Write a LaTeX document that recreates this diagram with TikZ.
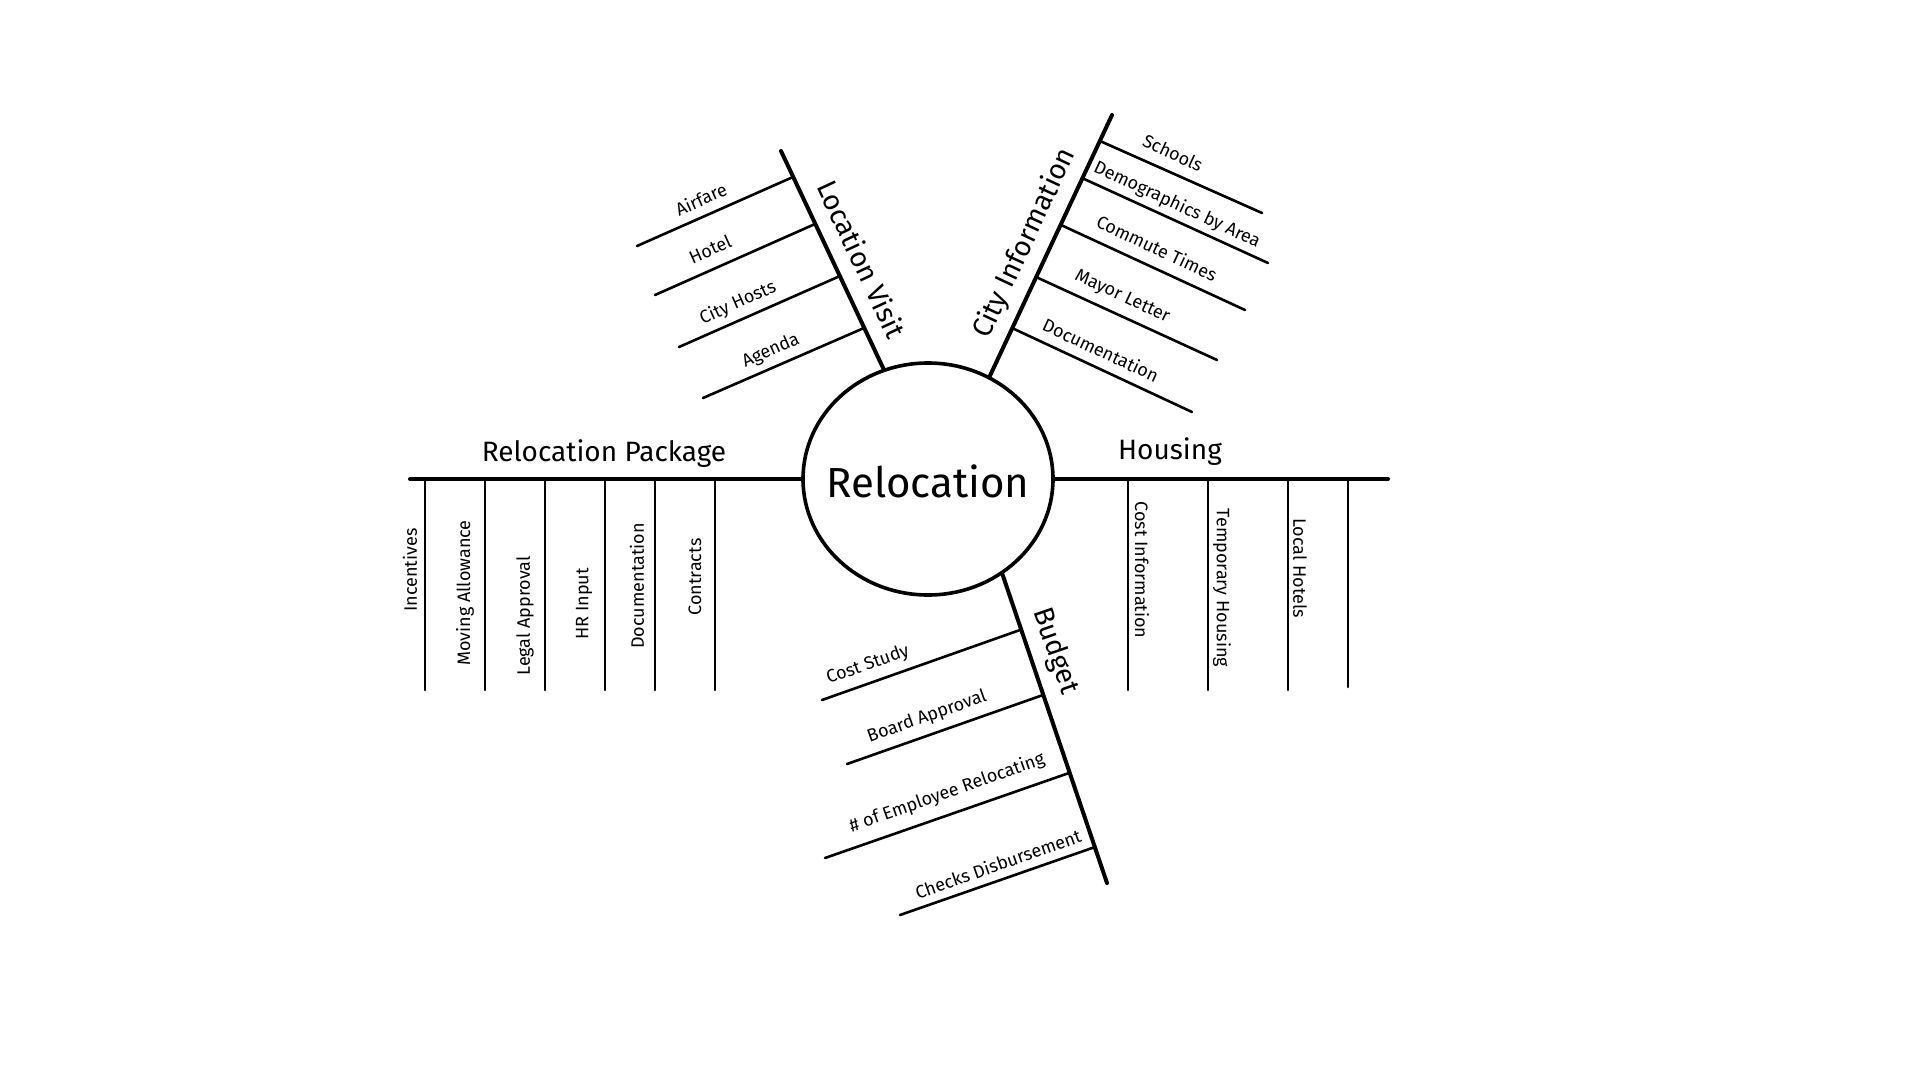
\documentclass[tikz,border=0pt]{standalone}
\usepackage{fontspec}
\setmainfont{Fira Sans}
\usetikzlibrary{shapes.geometric}
\begin{document}
\begin{tikzpicture}[x=1pt,y=-1pt,
  branch/.style={line width=4pt, line cap=round},
  twig/.style={line width=2.6pt, line cap=round},
  title/.style={font=\fontsize{28}{32}\selectfont, inner sep=0pt},
  leaf/.style={font=\fontsize{18}{22}\selectfont, inner sep=0pt},
  hub/.style={draw, ellipse, line width=3.6pt, minimum width=250pt, minimum height=232pt, inner sep=0pt}]
\useasboundingbox (0,0) rectangle (1920,1080);
\fill[white] (0,0) rectangle (1920,1080);

% hub
\node[hub] (hub) at (928,479) {};
\node[anchor=base, font=\fontsize{42}{48}\selectfont, inner sep=0pt] (hubtext) at (928,497) {Relocation};

% ---------- Location Visit ----------
\coordinate (lvtop) at (781,151);
\draw[branch] (hub.112) -- (lvtop);
\coordinate (lv1s) at (793,177);  \coordinate (lv1e) at (637,246);
\coordinate (lv2s) at (815,224);  \coordinate (lv2e) at (655,295);
\coordinate (lv3s) at (840,276);  \coordinate (lv3e) at (679,347);
\coordinate (lv4s) at (864,328);  \coordinate (lv4e) at (703,398);
\foreach \i in {1,...,4} \draw[twig] (lv\i s) -- (lv\i e);
\node[title, rotate=-65] (lvtitle) at (862,259) {Location Visit};
\node[leaf, rotate=24] (lvair) at (701,199) {Airfare};
\node[leaf, rotate=24] (lvhot) at (710,249) {Hotel};
\node[leaf, rotate=24] (lvcit) at (738,303) {City Hosts};
\node[leaf, rotate=24] (lvage) at (771,351) {Agenda};

% ---------- City Information ----------
\coordinate (citop) at (1112,115);
\draw[branch] (hub.59) -- (citop);
\coordinate (ci1s) at (1100,141);  \coordinate (ci1e) at (1262,213);
\coordinate (ci2s) at (1082,178);  \coordinate (ci2e) at (1268,263);
\coordinate (ci3s) at (1061,225);  \coordinate (ci3e) at (1245,310);
\coordinate (ci4s) at (1036,277);  \coordinate (ci4e) at (1217,360);
\coordinate (ci5s) at (1012,328);  \coordinate (ci5e) at (1192,412);
\foreach \i in {1,...,5} \draw[twig] (ci\i s) -- (ci\i e);
\node[title, rotate=65] (cititle) at (1025,243) {City Information};
\node[leaf, rotate=-25] (cisch) at (1173,153) {Schools};
\node[leaf, rotate=-25] (cidem) at (1177,205) {Demographics by Area};
\node[leaf, rotate=-25] (cicom) at (1157,248) {Commute Times};
\node[leaf, rotate=-25] (cimay) at (1122,297) {Mayor Letter};
\node[leaf, rotate=-25] (cidoc) at (1101,350) {Documentation};

% ---------- Relocation Package ----------
\coordinate (rpend) at (410,479);
\draw[branch] (hub.west) -- (rpend);
\foreach \x [count=\n] in {425,485,545,605,655,715} {
  \coordinate (rp\n t) at (\x,479);
  \coordinate (rp\n b) at (\x,690);
  \draw[twig] (rp\n t) -- (rp\n b);
}
\node[title, anchor=base] (rptitle) at (604,461) {Relocation Package};
\node[leaf, rotate=90] (rpinc) at (410,570) {Incentives};
\node[leaf, rotate=90] (rpmov) at (465,593) {Moving Allowance};
\node[leaf, rotate=90] (rpleg) at (525,616) {Legal Approval};
\node[leaf, rotate=90] (rphr)  at (584,604) {HR Input};
\node[leaf, rotate=90] (rpdoc) at (637,586) {Documentation};
\node[leaf, rotate=90] (rpcon) at (695,577) {Contracts};

% ---------- Housing ----------
\coordinate (hoend) at (1388,479);
\draw[branch] (hub.east) -- (hoend);
\foreach \x/\y [count=\n] in {1128/690,1208/690,1288/690,1348/687} {
  \coordinate (ho\n t) at (\x,479);
  \coordinate (ho\n b) at (\x,\y);
  \draw[twig] (ho\n t) -- (ho\n b);
}
\node[title, anchor=base] (hotitle) at (1170,459) {Housing};
\node[leaf, rotate=-90] (hocos) at (1142,570) {Cost Information};
\node[leaf, rotate=-90] (hotem) at (1222,588) {Temporary Housing};
\node[leaf, rotate=-90] (holoc) at (1300,568) {Local Hotels};

% ---------- Budget ----------
\coordinate (bgend) at (1107,883);
\draw[branch] (hub.-52) -- (bgend);
\coordinate (bg1s) at (1020,630);  \coordinate (bg1e) at (822,700);
\coordinate (bg2s) at (1043,695);  \coordinate (bg2e) at (847,764);
\coordinate (bg3s) at (1069,773);  \coordinate (bg3e) at (825,858);
\coordinate (bg4s) at (1095,847);  \coordinate (bg4e) at (900,915);
\foreach \i in {1,...,4} \draw[twig] (bg\i s) -- (bg\i e);
\node[title, rotate=-71] (bgtitle) at (1055,651) {Budget};
\node[leaf, rotate=19.5] (bgcos) at (868,665) {Cost Study};
\node[leaf, rotate=19.5] (bgboa) at (927,717) {Board Approval};
\node[leaf, rotate=19.5] (bgemp) at (947,793) {\# of Employee Relocating};
\node[leaf, rotate=19.5] (bgche) at (998,864) {Checks Disbursement};
\end{tikzpicture}
\end{document}
